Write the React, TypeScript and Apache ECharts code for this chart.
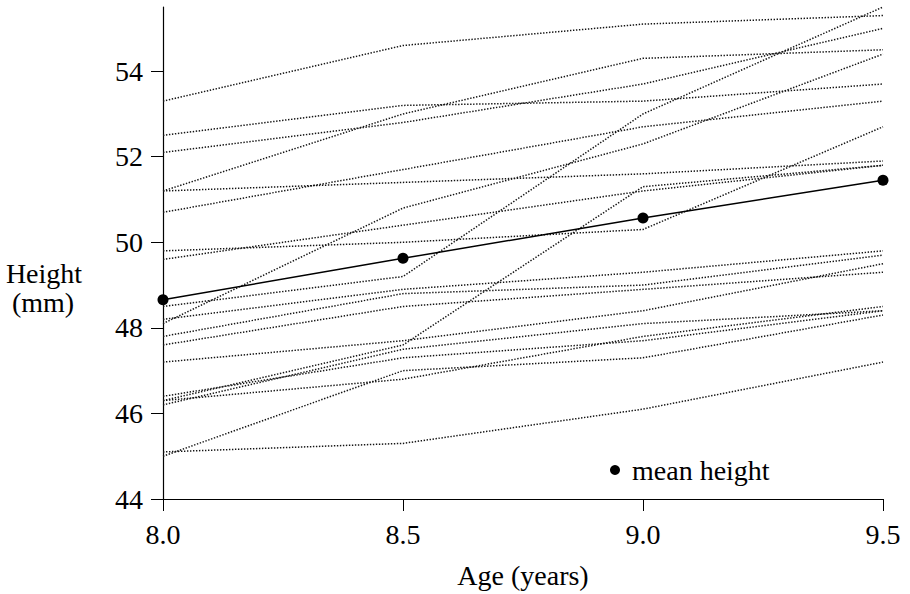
import React, { useEffect, useRef } from "react";
import * as echarts from "echarts";

// Ages at which the ramus height was measured
const ages = [8.0, 8.5, 9.0, 9.5];

// Ramus height (mm) of each boy at the four ages
const boyHeights: number[][] = [
  [47.8, 48.8, 49.0, 49.7],
  [46.4, 47.3, 47.7, 48.4],
  [46.3, 46.8, 47.8, 48.5],
  [45.1, 45.3, 46.1, 47.2],
  [47.6, 48.5, 48.9, 49.3],
  [52.5, 53.2, 53.3, 53.7],
  [51.2, 53.0, 54.3, 54.5],
  [49.8, 50.0, 50.3, 52.7],
  [48.1, 50.8, 52.3, 54.4],
  [45.0, 47.0, 47.3, 48.3],
  [51.2, 51.4, 51.6, 51.9],
  [48.5, 49.2, 53.0, 55.5],
  [52.1, 52.8, 53.7, 55.0],
  [48.2, 48.9, 49.3, 49.8],
  [49.6, 50.4, 51.2, 51.8],
  [50.7, 51.7, 52.7, 53.3],
  [47.2, 47.7, 48.4, 49.5],
  [53.3, 54.6, 55.1, 55.3],
  [46.2, 47.5, 48.1, 48.4],
  [46.3, 47.6, 51.3, 51.8],
];

// Mean height at each age
const meanHeight = [48.655, 49.625, 50.57, 51.45];

const xTicks = [8.0, 8.5, 9.0, 9.5];
const yTicks = [44, 46, 48, 50, 52, 54];

const FONT = "'Liberation Serif', 'DejaVu Serif', serif";
const FS = 28;

export default function App() {
  const ref = useRef<HTMLDivElement>(null);

  useEffect(() => {
    if (!ref.current) return;
    const chart = echarts.init(ref.current, undefined, { renderer: "svg" });

    const boySeries = boyHeights.map((h, i) => ({
      name: "boy " + (i + 1),
      type: "line" as const,
      data: ages.map((a, j) => [a, h[j]]),
      showSymbol: false,
      symbol: "none",
      silent: true,
      z: 2,
      lineStyle: { color: "#141414", width: 1.5, type: [1.4, 1.6] },
    }));

    chart.setOption({
      animation: false,
      backgroundColor: "#ffffff",
      textStyle: { fontFamily: FONT },
      grid: { left: 163, right: 27, top: 7, bottom: 91, containLabel: false },
      legend: {
        data: [{ name: "mean height", icon: "circle" }],
        left: 605,
        top: 451,
        itemWidth: 10,
        itemHeight: 10,
        textStyle: {
          fontFamily: FONT,
          fontSize: FS,
          color: "#000",
          padding: [0, 0, 0, 7],
        },
        selectedMode: false,
      },
      xAxis: {
        type: "value",
        min: 8,
        max: 9.5,
        interval: 0.5,
        name: "Age (years)",
        nameLocation: "middle",
        nameGap: 62,
        nameTextStyle: { fontFamily: FONT, fontSize: FS, color: "#000" },
        axisLine: { show: true, onZero: false, lineStyle: { color: "#000", width: 1.2 } },
        axisTick: { show: true, inside: false, length: 12, lineStyle: { color: "#000", width: 1 }, customValues: xTicks },
        axisLabel: {
          margin: 21,
          color: "#000",
          fontFamily: FONT,
          fontSize: FS,
          customValues: xTicks,
          formatter: (v: number) => v.toFixed(1),
        },
        splitLine: { show: false },
      },
      yAxis: {
        type: "value",
        min: 44,
        max: 55.5,
        interval: 2,
        axisLine: { show: true, onZero: false, lineStyle: { color: "#000", width: 1.2 } },
        axisTick: { show: true, inside: false, length: 12, lineStyle: { color: "#000", width: 1 }, customValues: yTicks },
        axisLabel: {
          margin: 20,
          color: "#000",
          fontFamily: FONT,
          fontSize: FS,
          customValues: yTicks,
        },
        splitLine: { show: false },
      },
      graphic: [
        {
          type: "text",
          x: 44,
          y: 273,
          style: {
            text: "Height",
            fontFamily: FONT,
            fontSize: FS,
            fill: "#000",
            align: "center",
            verticalAlign: "middle",
          },
        },
        {
          type: "text",
          x: 43,
          y: 302,
          style: {
            text: "(mm)",
            fontFamily: FONT,
            fontSize: FS,
            fill: "#000",
            align: "center",
            verticalAlign: "middle",
          },
        },
      ],
      series: [
        ...boySeries,
        {
          name: "mean height",
          type: "line",
          data: ages.map((a, j) => [a, meanHeight[j]]),
          symbol: "circle",
          symbolSize: 11,
          z: 5,
          itemStyle: { color: "#000" },
          lineStyle: { color: "#000", width: 1.5 },
        },
      ],
    });

    return () => chart.dispose();
  }, []);

  return (
    <div
      ref={ref}
      style={{ position: "fixed", left: 0, top: 0, width: 910, height: 594 }}
    />
  );
}
